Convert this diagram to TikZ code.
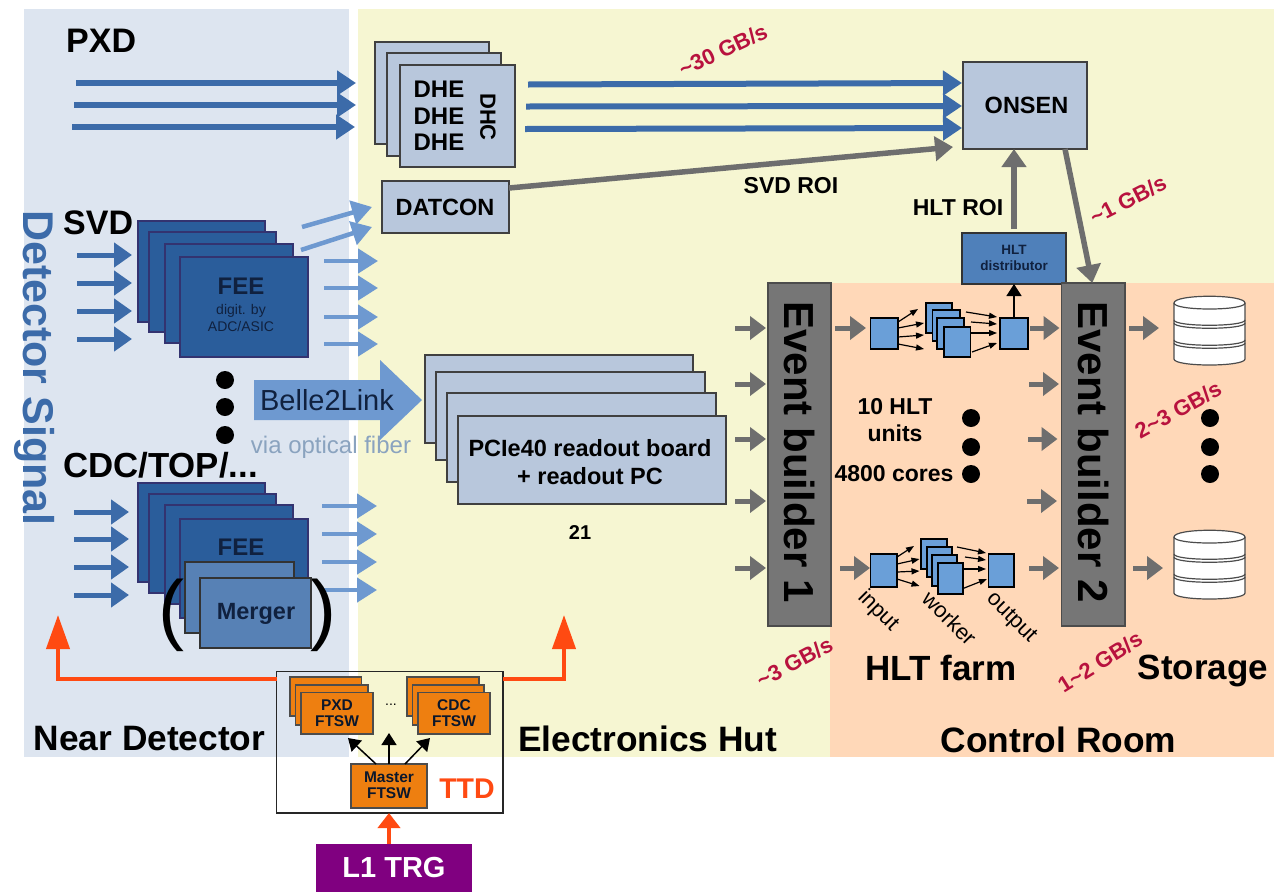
\documentclass[tikz,border=0pt]{standalone}
\usepackage{fontspec}
\setmainfont{Liberation Sans}
\usetikzlibrary{arrows.meta}
\definecolor{bgblue}{HTML}{DDE5F0}
\definecolor{bgyellow}{HTML}{F6F6D2}
\definecolor{bgorange}{HTML}{FFD8B8}
\definecolor{lightbox}{HTML}{B8C7DC}
\definecolor{feeblue}{HTML}{2A5D9B}
\definecolor{mergeblue}{HTML}{5781B5}
\definecolor{hltblue}{HTML}{4F80BA}
\definecolor{unitblue}{HTML}{6A9FD8}
\definecolor{arrowblue}{HTML}{3C6BA9}
\definecolor{arrowlight}{HTML}{6E99D0}
\definecolor{arrowgray}{HTML}{6E6E6E}
\definecolor{ebgray}{HTML}{767676}
\definecolor{rate}{HTML}{B8123E}
\definecolor{ttdred}{HTML}{FF4A12}
\definecolor{ftsw}{HTML}{EE7F10}
\definecolor{trg}{HTML}{800080}
\definecolor{navy}{HTML}{10213F}
\definecolor{fibertext}{HTML}{8AA3BF}
\tikzset{
  bt/.style={font=\fontsize{#1}{#1}\selectfont\bfseries,inner sep=0pt,align=center},
  rt/.style={font=\fontsize{#1}{#1}\selectfont,inner sep=0pt,align=center},
  boxbase/.style={draw,anchor=north west,inner sep=0pt,outer sep=0pt},
  lightb/.style={boxbase,fill=lightbox,draw=black!75,line width=1.4pt},
  feeb/.style={boxbase,fill=feeblue,draw=black!60!blue!60!gray,line width=1.4pt},
  mergeb/.style={boxbase,fill=mergeblue,draw=black!80,line width=1.4pt},
  hltb/.style={boxbase,fill=hltblue,draw=black!80,line width=1.2pt},
  unitb/.style={boxbase,fill=unitblue,draw=black,line width=1.2pt},
  ebb/.style={boxbase,fill=ebgray,draw=black!70,line width=1.4pt},
  ftswb/.style={boxbase,fill=ftsw,draw=black!70,line width=1.2pt},
  ttdb/.style={boxbase,fill=none,draw=black!85,line width=1.2pt},
  trgb/.style={boxbase,fill=trg,draw=none},
  pxdar/.style={line width=6pt,draw=arrowblue,-{Triangle[length=19pt,width=24pt]}},
  inar/.style={line width=5pt,draw=arrowblue,-{Triangle[length=18pt,width=24pt]}},
  outar/.style={line width=4.5pt,draw=arrowlight,-{Triangle[length=20pt,width=24pt]}},
  grar/.style={line width=5pt,draw=arrowgray,-{Triangle[length=16pt,width=23pt]}},
  grthick/.style={line width=5.5pt,draw=arrowgray,-{Triangle[length=18pt,width=24pt]}},
  smallar/.style={line width=1.2pt,draw=black,-{Triangle[length=8pt,width=6pt]}},
  blkar/.style={line width=1.5pt,draw=black,-{Triangle[length=12pt,width=15pt]}},
  redar/.style={line width=4pt,draw=ttdred,-{Triangle[length=34pt,width=23pt]}},
  dotn/.style={circle,fill=black,inner sep=0pt,minimum size=18pt},
  ratet/.style={bt=22,text=rate}
}
% name, x1, y1, x2, y2, style
\newcommand\boxn[6]{\node[#6,minimum width={(#4-#2)*1pt},minimum height={(#5-#3)*1pt}] (#1) at (#2,#3) {};}
% style, name, start, end
\newcommand\conn[4]{\coordinate (#2a) at (#3);\coordinate (#2b) at (#4);\draw[#1] (#2a) -- (#2b);}
% name, cx, top
\newcommand\diskd[3]{%
  \coordinate (#1) at (#2,#3);
  \begin{scope}[shift={(#2,#3)},line width=1.2pt,draw=black!70]
    \draw[fill=white] (-35.5,7) -- (-35.5,63) .. controls (-35.5,71) and (35.5,71) .. (35.5,63) -- (35.5,7)
      .. controls (35.5,-2) and (-35.5,-2) .. (-35.5,7) -- cycle;
    \draw (-35.5,7) .. controls (-35.5,15) and (35.5,15) .. (35.5,7);
    \foreach \yy in {24,27,44,47}
      \draw (-35.5,\yy) .. controls (-35.5,\yy+7) and (35.5,\yy+7) .. (35.5,\yy);
  \end{scope}}
\begin{document}
\begin{tikzpicture}[x=1pt,y=-1pt]
\useasboundingbox (0,0) rectangle (1274,892);
% regions
\fill[white] (0,0) rectangle (1274,892);
\boxn{bgNear}{24}{9}{349}{757}{boxbase,draw=none,fill=bgblue}
\boxn{bgHut}{358}{9}{1274}{757}{boxbase,draw=none,fill=bgyellow}
\boxn{bgRoom}{830}{283}{1274}{757}{boxbase,draw=none,fill=bgorange}
% titles
\node[bt=34,anchor=west] (tPXD) at (66,41) {PXD};
\node[bt=34,anchor=west] (tSVD) at (63,223) {SVD};
\node[bt=34.8,anchor=west] (tCDC) at (63,465) {CDC/TOP/...};
\node[bt=43,text=arrowblue,rotate=-90] (tSignal) at (35,368) {Detector Signal};
\node[bt=35.3] (tNear) at (149.5,739) {Near Detector};
\node[bt=35.3] (tHut) at (647.5,739) {Electronics Hut};
\node[bt=35.3] (tRoom) at (1058.5,740) {Control Room};
\node[bt=35] (tFarm) at (941,668) {HLT farm};
\node[bt=35] (tStorage) at (1203,671) {Storage};
% PXD arrows
\conn{pxdar}{pa}{76,83}{356,83}
\conn{pxdar}{pb}{74,105}{356,105}
\conn{pxdar}{pc}{72,127}{355,127}
% DHC stack
\boxn{dhcA}{375}{42}{489}{144}{lightb}
\boxn{dhcB}{387}{53}{501}{156}{lightb}
\boxn{dhcC}{400}{65}{515}{167}{lightb}
\node[bt=24] (dheA) at (439,89) {DHE};
\node[bt=24] (dheB) at (439,116) {DHE};
\node[bt=24] (dheC) at (439,142) {DHE};
\node[bt=22,rotate=-90] (dhcT) at (488,117) {DHC};
% ONSEN and its inputs
\boxn{onsen}{963}{62}{1087}{149}{lightb}
\node[bt=23.5] (onsenT) at (1026.5,105) {ONSEN};
\conn{pxdar}{da}{528,84.5}{962,83}
\conn{pxdar}{db}{526,106.5}{962,106}
\conn{pxdar}{dc}{525,129}{962,128}
\node[ratet,rotate=25] (r30) at (723,50) {\textasciitilde30 GB/s};
% DATCON
\boxn{datcon}{382}{181}{509}{233}{lightb}
\node[bt=23.5] (datconT) at (445,207) {DATCON};
\draw[grthick] ([yshift=19pt]datcon.east) -- ([xshift=-10pt,yshift=-41.5pt]onsen.west);
\node[bt=23] (svdroi) at (791,186) {SVD ROI};
% HLT distributor
\boxn{dist}{962}{233}{1066}{284}{hltb}
\node[bt=13.5,text=navy] (distT) at (1014,258) {HLT\\[2pt]distributor};
\draw[grthick] ([yshift=4pt]dist.north -| 1014,0) -- (onsen.south -| 1014,0);
\node[bt=23] (hltroi) at (958,208) {HLT ROI};
% SVD FEE
\conn{inar}{sia}{77,255}{132,255}
\conn{inar}{sib}{77,283}{132,283}
\conn{inar}{sic}{77,311}{132,311}
\conn{inar}{sid}{77,339}{132,339}
\boxn{feeA}{138}{221}{265}{322}{feeb}
\boxn{feeB}{149}{232}{276}{332}{feeb}
\boxn{feeC}{165}{244}{293}{343}{feeb}
\boxn{feeD}{180}{257}{308}{357}{feeb}
\node[bt=24,text=navy] (feeT) at (241,286) {FEE};
\node[rt=14,text=navy] (feeS) at (241,318) {digit. by\\[3pt]ADC/ASIC};
\conn{outar}{soa}{302,227}{372,207}
\conn{outar}{sob}{301,250}{372,227}
\conn{outar}{soc}{324,261}{378,261}
\conn{outar}{sod}{324,288}{378,288}
\conn{outar}{soe}{324,317}{378,317}
\conn{outar}{sof}{324,344}{378,344}
% dots
\node[dotn] (dotA) at (225,380) {};
\node[dotn] (dotB) at (225,407) {};
\node[dotn] (dotC) at (225,435) {};
% Belle2Link
\fill[arrowlight] (254,380) -- (380,380) -- (380,360) -- (422,400) -- (380,440) -- (380,420) -- (254,420) -- cycle;
\node[rt=29,text=navy] (b2l) at (327,400) {Belle2Link};
\node[rt=24,text=fibertext] (fiber) at (331,447) {via optical fiber};
% PCIe40 stack
\boxn{pcA}{425}{355}{693}{443}{lightb}
\boxn{pcB}{436}{372}{705}{460}{lightb}
\boxn{pcC}{447}{393}{716}{482}{lightb}
\boxn{pcD}{458}{416}{726}{504}{lightb}
\node[bt=23.5] (pcT) at (590,462) {PCIe40 readout board\\[4pt]+ readout PC};
\node[bt=20] (n21) at (580,533) {21};
% CDC FEE
\conn{inar}{cia}{74,512}{129,512}
\conn{inar}{cib}{74,539}{129,539}
\conn{inar}{cic}{74,567}{129,567}
\conn{inar}{cid}{74,595}{129,595}
\conn{outar}{coa}{322,506}{377,506}
\conn{outar}{cob}{322,534}{377,534}
\conn{outar}{coc}{322,562}{377,562}
\conn{outar}{cod}{322,590}{377,590}
\boxn{cfeeA}{138}{483}{265}{582}{feeb}
\boxn{cfeeB}{149}{494}{276}{593}{feeb}
\boxn{cfeeC}{165}{505}{293}{604}{feeb}
\boxn{cfeeD}{180}{519}{308}{618}{feeb}
\node[bt=24,text=navy] (cfeeT) at (241,547) {FEE};
\node[rt=78] (parL) at (171,615) {(};
\node[rt=78] (parR) at (323,615) {)};
\boxn{mergeA}{185}{562}{294}{633}{mergeb}
\boxn{mergeB}{200}{578}{311}{648}{mergeb}
\node[bt=23.5,text=navy] (mergeT) at (256,614) {Merger};
% Event builders
\boxn{ebA}{768}{283}{831}{626}{ebb}
\boxn{ebB}{1061.5}{283}{1125}{626}{ebb}
\node[bt=42,rotate=-90] (ebAT) at (799.5,452) {Event builder 1};
\node[bt=42,rotate=-90] (ebBT) at (1093,452) {Event builder 2};
\conn{grar}{ga}{735,328}{766,328}
\conn{grar}{gb}{735,384}{766,384}
\conn{grar}{gc}{735,439}{766,439}
\conn{grar}{gd}{735,501}{766,501}
\conn{grar}{ge}{735,568}{766,568}
\conn{grar}{ha}{835,328}{866,328}
\conn{grar}{hb}{840,568}{870,568}
\conn{grar}{ia}{1030,328}{1059.5,328}
\conn{grar}{ib}{1029,384}{1059,384}
\conn{grar}{ic}{1028,439}{1057.5,439}
\conn{grar}{id}{1027,501}{1057,501}
\conn{grar}{ie}{1029,568}{1059,568}
\conn{grar}{ja}{1129,328}{1159,328}
\conn{grar}{jb}{1133,568}{1163,568}
\draw[grthick] ([xshift=-22pt]onsen.south east) -- ([xshift=-1pt]ebB.north);
\node[ratet,rotate=27] (r1) at (1128,200) {\textasciitilde1 GB/s};
\node[ratet,rotate=28] (r3) at (794.5,662) {\textasciitilde3 GB/s};
\node[ratet,rotate=32] (r12) at (1100,662) {1\textasciitilde2 GB/s};
\node[ratet,rotate=29] (r23) at (1178,410) {2\textasciitilde3 GB/s};
% HLT unit, top
\boxn{uinA}{870.5}{318}{898}{349}{unitb}
\boxn{uwA}{926}{303}{952}{333}{unitb}
\boxn{uwB}{932.5}{310}{960}{341}{unitb}
\boxn{uwC}{937}{318}{964}{349}{unitb}
\boxn{uwD}{944}{327}{970.5}{357}{unitb}
\boxn{uoutA}{1000}{318}{1028}{349}{unitb}
\conn{smallar}{ka}{898,322}{918,309}
\conn{smallar}{kb}{898,328}{924,323}
\conn{smallar}{kc}{898,337}{924,335}
\conn{smallar}{kd}{898,344}{924,349}
\conn{smallar}{la}{966,312}{997,317}
\conn{smallar}{lb}{971,322}{997,324}
\conn{smallar}{lc}{971,333}{997,333}
\conn{smallar}{ld}{972,352}{997,343}
\draw[blkar] (uoutA.north) -- (uoutA.north |- dist.south);
% HLT unit, bottom
\boxn{uinB}{870.5}{554}{897}{587}{unitb}
\boxn{uxA}{921}{539}{947}{569}{unitb}
\boxn{uxB}{927}{547}{952}{577}{unitb}
\boxn{uxC}{932}{555}{957}{586}{unitb}
\boxn{uxD}{938}{563}{963}{594}{unitb}
\boxn{uoutB}{988.5}{554}{1014}{587}{unitb}
\conn{smallar}{ma}{897,557}{914,546}
\conn{smallar}{mb}{897,564}{919.5,559}
\conn{smallar}{mc}{897,572}{919.5,571}
\conn{smallar}{md}{897,579}{919.5,586}
\conn{smallar}{na}{957,547}{986,553}
\conn{smallar}{nb}{965,557}{986,560}
\conn{smallar}{nc}{963,569}{986,569}
\conn{smallar}{nd}{963,588.5}{987,579}
\node[rt=22,rotate=-45] (lIn) at (878,611) {input};
\node[rt=22,rotate=-45] (lWk) at (949.5,618) {worker};
\node[rt=22,rotate=-45] (lOut) at (1011,618) {output};
% farm labels and dots
\node[bt=23] (lUnits) at (895,420) {10 HLT\\[4pt]units};
\node[bt=23] (lCores) at (894,474) {4800 cores};
\node[dotn] (dotD) at (971,418) {};
\node[dotn] (dotE) at (971,447) {};
\node[dotn] (dotF) at (971,474) {};
\node[dotn] (dotG) at (1210,418) {};
\node[dotn] (dotH) at (1210,447) {};
\node[dotn] (dotI) at (1210,474) {};
% disks
\diskd{diskA}{1209.5}{296}
\diskd{diskB}{1209.5}{530}
% TTD
\boxn{ttd}{276.5}{671.5}{503}{813}{ttdb}
\boxn{pxA}{290}{677}{361.5}{716}{ftswb}
\boxn{pxB}{295.5}{685}{368}{725}{ftswb}
\boxn{pxC}{301}{692.5}{373}{734}{ftswb}
\node[bt=15.5,text=navy!70!black] (pxT) at (337,713) {PXD\\[1pt]FTSW};
\node[rt=14] (ell) at (391,705) {...};
\boxn{cxA}{407}{677}{479}{716}{ftswb}
\boxn{cxB}{412.5}{685}{484}{725}{ftswb}
\boxn{cxC}{418}{692.5}{490}{734}{ftswb}
\node[bt=15.5,text=navy!70!black] (cxT) at (454,713) {CDC\\[1pt]FTSW};
\boxn{master}{351}{764}{427}{808}{ftswb}
\node[bt=15.5,text=navy!70!black] (masterT) at (389,785) {Master\\[1pt]FTSW};
\node[bt=28.5,text=ttdred] (ttdT) at (467,789) {TTD};
\draw[blkar] ([xshift=-13pt]master.north) -- ([xshift=-25pt,yshift=-4pt]pxC.south east);
\draw[blkar] (master.north) -- (389,733);
\draw[blkar] ([xshift=16pt]master.north) -- ([xshift=12pt,yshift=-4pt]cxC.south west);
\draw[redar] (ttd.west |- 0,679) -- (58,679) -- (58,615);
\draw[redar] (ttd.east |- 0,679) -- (564,679) -- (564,615);
% L1 TRG
\boxn{trig}{316}{843.5}{472}{892}{trgb}
\node[bt=29,text=white] (trigT) at (394,868) {L1 TRG};
\draw[line width=4pt,draw=ttdred,-{Triangle[length=15pt,width=22pt]}] (trig.north -| 389,0) -- (ttd.south -| 389,0);
\end{tikzpicture}
\end{document}
